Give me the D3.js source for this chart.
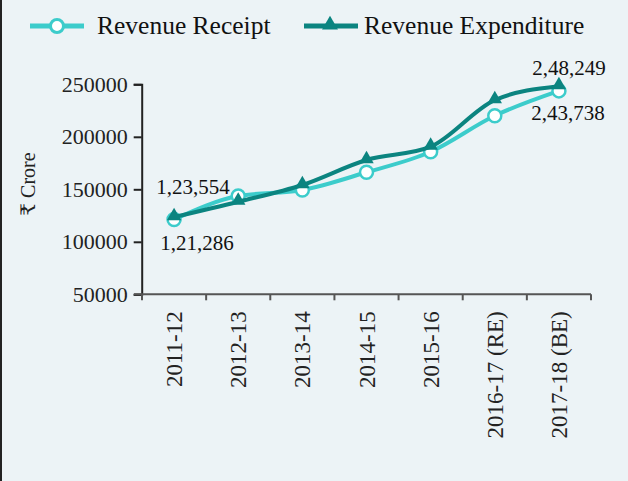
<!DOCTYPE html>
<html>
<head>
<meta charset="utf-8">
<script src="https://cdn.jsdelivr.net/npm/d3@7"></script>
<style>
  html, body { margin: 0; padding: 0; background: #ecf3f6; }
  svg { display: block; font-family: "Liberation Serif", "Times New Roman", "DejaVu Serif", serif; }
</style>
</head>
<body>
<div id="chart"></div>
<script>
  // chart data
  var years = ['2011-12', '2012-13', '2013-14', '2014-15', '2015-16', '2016-17 (RE)', '2017-18 (BE)'];
  var receipt = [121286, 143600, 149300, 166200, 185800, 220100, 243738];
  var expenditure = [123554, 138200, 154100, 177900, 190600, 235000, 248249];
  var yTicks = [50000, 100000, 150000, 200000, 250000];
  var seriesNames = ['Revenue Receipt', 'Revenue Expenditure'];
  // labelled points: [series, index, text]
  var callouts = [
    ['exp', 0, '1,23,554'],
    ['rec', 0, '1,21,286'],
    ['exp', 6, '2,48,249'],
    ['rec', 6, '2,43,738']
  ];

  var width = 628, height = 481;
  var cRec = '#3ccccb', cExp = '#0b8480';

  var svg = d3.select('#chart').append('svg')
      .attr('width', width)
      .attr('height', height);

  svg.append('rect').attr('width', width).attr('height', height).attr('fill', '#ecf3f6');
  svg.append('rect').attr('x', 0).attr('y', 0).attr('width', 2).attr('height', height).attr('fill', '#222');

  var x = d3.scaleBand().domain(years).range([142, 591]);
  var y = d3.scaleLinear().domain([50000, 250000]).range([294.3, 84.3]);
  var cx = function(d, i) { return x(years[i]) + x.bandwidth() / 2; };

  // y axis
  var yAxis = svg.append('g')
      .attr('transform', 'translate(141.7,0)')
      .call(d3.axisLeft(y).tickValues(yTicks).tickFormat(d3.format('d')).tickSize(8).tickPadding(6));
  yAxis.attr('font-family', null);
  yAxis.select('.domain').attr('stroke', '#222').attr('stroke-width', 2);
  yAxis.selectAll('.tick line').attr('stroke', '#222').attr('stroke-width', 2);
  yAxis.selectAll('.tick text').attr('font-size', 22).attr('fill', '#222');

  // x axis: ticks at band edges, labels at band centers
  var xg = svg.append('g').attr('transform', 'translate(0,294.3)');
  xg.append('line').attr('x1', 134).attr('x2', x.range()[1])
      .attr('stroke', '#555').attr('stroke-width', 2);
  var edges = years.map(function(d) { return x(d); }).concat([x.range()[1]]);
  xg.selectAll('line.edge').data(edges).enter().append('line')
      .attr('class', 'edge')
      .attr('x1', function(d) { return d; }).attr('x2', function(d) { return d; })
      .attr('y1', 0).attr('y2', 6)
      .attr('stroke', '#555').attr('stroke-width', 2);
  xg.selectAll('text').data(years).enter().append('text')
      .attr('transform', function(d) {
        return 'translate(' + (x(d) + x.bandwidth() / 2) + ',17) rotate(-90)';
      })
      .attr('dy', '0.35em')
      .attr('text-anchor', 'end')
      .attr('font-size', 23)
      .attr('fill', '#222')
      .text(function(d) { return d; });

  // y title
  svg.append('text')
      .attr('transform', 'translate(35,184) rotate(-90)')
      .attr('text-anchor', 'middle')
      .attr('font-size', 20)
      .attr('fill', '#222')
      .text('₹ Crore');

  var line = d3.line()
      .x(cx)
      .y(function(d) { return y(d); })
      .curve(d3.curveMonotoneX);

  // receipt series
  svg.append('path').datum(receipt)
      .attr('d', line).attr('fill', 'none')
      .attr('stroke', cRec).attr('stroke-width', 4);
  svg.selectAll('circle.rec').data(receipt).enter().append('circle')
      .attr('class', 'rec')
      .attr('cx', cx).attr('cy', function(d) { return y(d); })
      .attr('r', 6.5)
      .attr('fill', '#fff').attr('stroke', cRec).attr('stroke-width', 2.5);

  // expenditure series
  var tri = d3.symbol().type(d3.symbolTriangle).size(90);
  svg.append('path').datum(expenditure)
      .attr('d', line).attr('fill', 'none')
      .attr('stroke', cExp).attr('stroke-width', 4);
  svg.selectAll('path.exp').data(expenditure).enter().append('path')
      .attr('class', 'exp')
      .attr('d', tri)
      .attr('transform', function(d, i) { return 'translate(' + cx(d, i) + ',' + (y(d) - 1) + ')'; })
      .attr('fill', cExp);

  // callouts
  var offsets = { '0exp': [19, -23], '0rec': [23, 31], '6exp': [10, -11], '6rec': [9, 29] };
  svg.selectAll('text.callout').data(callouts).enter().append('text')
      .attr('class', 'callout')
      .attr('x', function(d) {
        return x(years[d[1]]) + x.bandwidth() / 2 + offsets[d[1] + d[0]][0];
      })
      .attr('y', function(d) {
        var v = d[0] === 'rec' ? receipt[d[1]] : expenditure[d[1]];
        return y(v) + offsets[d[1] + d[0]][1];
      })
      .attr('text-anchor', 'middle')
      .attr('font-size', 21)
      .attr('fill', '#111')
      .text(function(d) { return d[2]; });

  // legend
  var legend = svg.append('g');
  var items = [
    { name: seriesNames[0], color: cRec, x0: 30 },
    { name: seriesNames[1], color: cExp, x0: 304 }
  ];
  items.forEach(function(it, i) {
    var g = legend.append('g').attr('transform', 'translate(' + it.x0 + ',26)');
    g.append('line').attr('x1', 0).attr('x2', 54)
        .attr('stroke', it.color).attr('stroke-width', 5);
    if (i === 0) {
      g.append('circle').attr('cx', 27).attr('cy', 0).attr('r', 6.5)
          .attr('fill', '#fff').attr('stroke', it.color).attr('stroke-width', 3);
    } else {
      g.append('path').attr('d', d3.symbol().type(d3.symbolTriangle).size(110))
          .attr('transform', 'translate(26,-1)').attr('fill', it.color);
    }
    g.append('text').attr('x', 67 - (i === 0 ? 0 : 7)).attr('y', 8)
        .attr('font-size', 25.5).attr('fill', '#111')
        .text(it.name);
  });
</script>
</body>
</html>
